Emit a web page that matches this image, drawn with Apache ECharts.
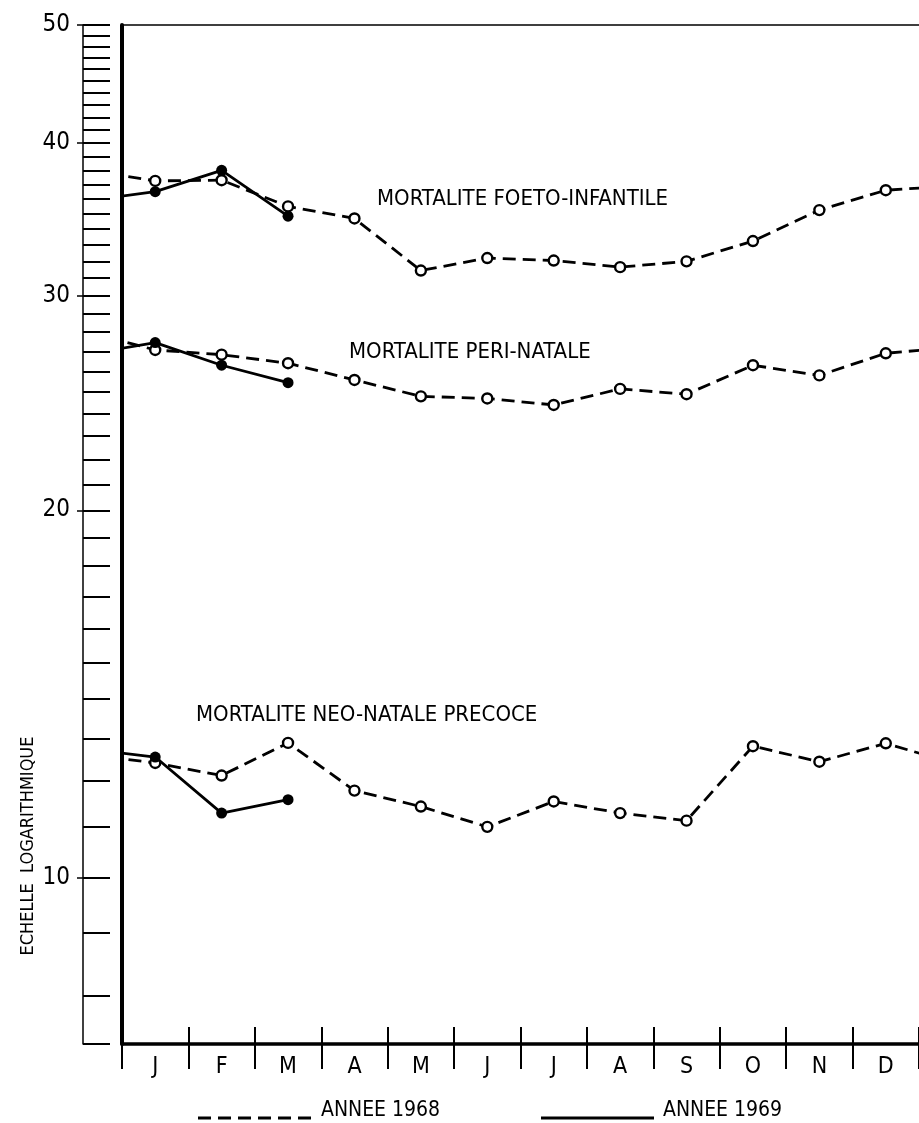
<!DOCTYPE html>
<html><head><meta charset="utf-8">
<script src="https://cdn.jsdelivr.net/npm/echarts@6/dist/echarts.min.js"></script>
<style>html,body{margin:0;padding:0;background:#fff}#c{width:919px;height:1123px}</style>
</head><body><div id="c"></div>
<script>
// Month categories
const months = ['J','F','M','A','M','J','J','A','S','O','N','D'];
// Index 0 = December of previous year (runs in from the left axis), 1..12 = J..D, 13 = next January (runs off right)
const foeto1968 = [38.0, 37.25, 37.3, 35.5, 34.7, 31.45, 32.2, 32.05, 31.65, 32.0, 33.25, 35.25, 36.6, 36.9];
const foeto1969 = [35.9, 36.5, 38.0, 34.85];
const peri1968  = [27.98, 27.07, 26.83, 26.4, 25.58, 24.8, 24.7, 24.4, 25.15, 24.9, 26.3, 25.8, 26.9, 27.2];
const peri1969  = [26.86, 27.45, 26.3, 25.45];
const neo1968   = [12.61, 12.41, 12.12, 12.89, 11.78, 11.43, 11.0, 11.54, 11.29, 11.13, 12.81, 12.44, 12.88, 12.41];
const neo1969   = [12.74, 12.55, 11.29, 11.58];
const yMin = 7.3, yMax = 50;
const rulerTicks = [7.3, 8, 9, 10, 11, 12, 13, 14, 15, 16, 17, 18, 19, 20, 21, 22, 23, 24, 25, 26, 27, 28, 29, 30,
  31, 32, 33, 34, 35, 36, 37, 38, 39, 40, 41, 42, 43, 44, 45, 46, 47, 48, 49, 50];
const yLabels = [10, 20, 30, 40, 50];
const curveNames = ['MORTALITE FOETO-INFANTILE', 'MORTALITE PERI-NATALE', 'MORTALITE NEO-NATALE PRECOCE'];
const yearNames = ['ANNEE 1968', 'ANNEE 1969'];
const axisScaleY = 'ECHELLE  LOGARITHMIQUE';

const FONT = "'Liberation Sans Narrow', 'DejaVu Sans Condensed', 'Liberation Sans', sans-serif";
const chart = echarts.init(document.getElementById('c'), null, {renderer: 'canvas'});

function toData(arr) {
  return arr.map((v, i) => {
    const item = {value: [i - 0.5, v]};
    if (i === 0 || i === 13) item.symbol = 'none';
    return item;
  });
}
function s1968(arr) {
  return {type: 'line', name: yearNames[0], data: toData(arr), clip: true, z: 3,
    lineStyle: {color: '#000', width: 2.8, type: [13, 7]},
    symbol: 'circle', symbolSize: 10,
    itemStyle: {color: '#fff', borderColor: '#000', borderWidth: 2.4},
    emphasis: {disabled: true}, animation: false};
}
function s1969(arr) {
  return {type: 'line', name: yearNames[1], data: toData(arr), clip: true, z: 4,
    lineStyle: {color: '#000', width: 2.8, type: 'solid'},
    symbol: 'circle', symbolSize: 11,
    itemStyle: {color: '#000', borderColor: '#000', borderWidth: 0},
    emphasis: {disabled: true}, animation: false};
}
const logAxisBase = {type: 'log', logBase: 10, min: yMin, max: yMax, splitLine: {show: false}};
const valXBase = {type: 'value', min: 0, max: 12, interval: 1, splitLine: {show: false}};

chart.setOption({
  animation: false,
  backgroundColor: '#fff',
  grid: {left: 122, top: 25, bottom: 79, right: -16, containLabel: false},
  xAxis: [
    Object.assign({}, valXBase, {position: 'bottom',
      axisLine: {show: true, onZero: false, lineStyle: {color: '#000', width: 3.5}},
      axisTick: {show: true, inside: true, length: 17, customValues: [1,2,3,4,5,6,7,8,9,10,11,12], lineStyle: {color: '#000', width: 2}},
      axisLabel: {show: true, customValues: months.map((m, i) => i + 0.5), formatter: v => months[Math.floor(v)],
        margin: 12, fontSize: 23, color: '#000', fontFamily: FONT}}),
    Object.assign({}, valXBase, {position: 'bottom',
      axisLine: {show: false, onZero: false},
      axisTick: {show: true, inside: false, length: 25, customValues: [0,1,2,3,4,5,6,7,8,9,10,11,12], lineStyle: {color: '#000', width: 2}},
      axisLabel: {show: false}}),
    Object.assign({}, valXBase, {position: 'top',
      axisLine: {show: true, onZero: false, lineStyle: {color: '#000', width: 1.5}},
      axisTick: {show: false}, axisLabel: {show: false}})
  ],
  yAxis: [
    Object.assign({}, logAxisBase, {position: 'left',
      axisLine: {show: true, onZero: false, lineStyle: {color: '#000', width: 4}},
      axisTick: {show: false}, axisLabel: {show: false}}),
    Object.assign({}, logAxisBase, {position: 'left', offset: 39,
      axisLine: {show: true, onZero: false, lineStyle: {color: '#000', width: 1.5}},
      axisTick: {show: true, inside: true, length: 27, customValues: rulerTicks, lineStyle: {color: '#000', width: 2}},
      axisLabel: {show: true, customValues: yLabels, margin: 13, fontSize: 24, color: '#000', fontFamily: FONT}}),
    Object.assign({}, logAxisBase, {position: 'left', offset: 39,
      axisLine: {show: false, onZero: false},
      axisTick: {show: true, inside: false, length: 6, customValues: yLabels, lineStyle: {color: '#000', width: 1.5}},
      axisLabel: {show: false}})
  ],
  series: [
    s1968(foeto1968), s1969(foeto1969),
    s1968(peri1968), s1969(peri1969),
    s1968(neo1968), s1969(neo1969)
  ],
  graphic: [
    {type: 'text', left: 377, top: 188, style: {text: curveNames[0], font: '22px ' + FONT, fill: '#000'}},
    {type: 'text', left: 349, top: 341, style: {text: curveNames[1], font: '22px ' + FONT, fill: '#000'}},
    {type: 'text', left: 196, top: 704, style: {text: curveNames[2], font: '22px ' + FONT, fill: '#000'}},
    {type: 'text', x: 28, y: 846, rotation: Math.PI / 2,
      style: {text: axisScaleY, font: '18px ' + FONT, fill: '#000', align: 'center', verticalAlign: 'middle'}},
    {type: 'line', shape: {x1: 198, y1: 1118, x2: 318, y2: 1118}, style: {stroke: '#000', lineWidth: 2.8, lineDash: [13, 7]}},
    {type: 'text', left: 321, top: 1100, style: {text: yearNames[0], font: '21px ' + FONT, fill: '#000'}},
    {type: 'line', shape: {x1: 541, y1: 1118, x2: 654, y2: 1118}, style: {stroke: '#000', lineWidth: 2.8}},
    {type: 'text', left: 663, top: 1100, style: {text: yearNames[1], font: '21px ' + FONT, fill: '#000'}}
  ]
});
</script></body></html>
